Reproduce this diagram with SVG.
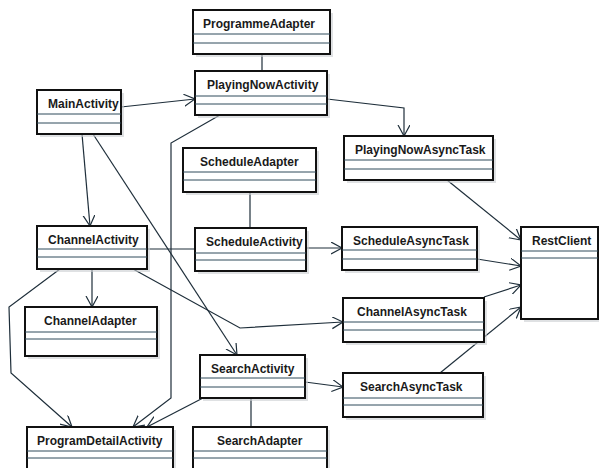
<svg xmlns="http://www.w3.org/2000/svg" width="599" height="468" viewBox="0 0 599 468">
<style>
.bx{fill:#fff;stroke:#111;stroke-width:2}
.sh{fill:#c9cdd0;opacity:0.6}
.dv{stroke:#2e4b5a;stroke-width:1}
.t{font-family:"Liberation Sans",Arial,sans-serif;font-weight:bold;font-size:12px;fill:#1a1a1a}
.c{fill:none;stroke:#1e2e3a;stroke-width:1.2}
.a{marker-end:url(#arr)}
</style>
<defs>
<marker id="arr" markerUnits="userSpaceOnUse" markerWidth="14" markerHeight="14" refX="11" refY="6" orient="auto">
<path d="M0,0 L11,6 L0,12" fill="none" stroke="#1e2e3a" stroke-width="1.2"/>
</marker>
</defs>
<rect width="599" height="468" fill="#fff"/>
<g id="connectors">
<line class="c" x1="262" y1="54" x2="262" y2="71"/>
<line class="c a" x1="121" y1="107" x2="195" y2="99"/>
<polyline class="c a" points="327,99 404,108 404,136"/>
<polyline class="c a" points="220,115 171,143 171,398 133,427"/>
<line class="c a" x1="447" y1="180" x2="521" y2="240"/>
<line class="c" x1="250" y1="192" x2="250" y2="228"/>
<line class="c a" x1="306" y1="248" x2="342" y2="248"/>
<line class="c a" x1="477" y1="259" x2="521" y2="266"/>
<line class="c a" x1="82" y1="134" x2="90" y2="226"/>
<line class="c a" x1="93" y1="134" x2="237" y2="355"/>
<line class="c" x1="147" y1="249" x2="195" y2="249"/>
<line class="c a" x1="92" y1="269" x2="92" y2="307"/>
<polyline class="c a" points="60,269 9,307 11,373 72,427"/>
<polyline class="c a" points="133,269 240,328 343,322"/>
<line class="c a" x1="484" y1="297" x2="521" y2="285"/>
<line class="c a" x1="440" y1="373" x2="521" y2="307"/>
<line class="c a" x1="305" y1="382" x2="343" y2="387"/>
<line class="c" x1="251" y1="398" x2="251" y2="427"/>
<line class="c a" x1="203" y1="398" x2="147" y2="427"/>
</g>
<g id="ProgrammeAdapter">
<rect class="sh" x="196" y="13" width="137" height="44"/>
<rect class="bx" x="193" y="10" width="137" height="44"/>
<line class="dv" x1="193" y1="34" x2="330" y2="34"/><line class="dv" x1="193" y1="43" x2="330" y2="43"/>
<text class="t" x="203" y="28">ProgrammeAdapter</text>
</g>
<g id="PlayingNowActivity">
<rect class="sh" x="198" y="74" width="132" height="44"/>
<rect class="bx" x="195" y="71" width="132" height="44"/>
<line class="dv" x1="195" y1="96" x2="327" y2="96"/><line class="dv" x1="195" y1="104" x2="327" y2="104"/>
<text class="t" x="207" y="89">PlayingNowActivity</text>
</g>
<g id="MainActivity">
<rect class="sh" x="40" y="93" width="84" height="44"/>
<rect class="bx" x="37" y="90" width="84" height="44"/>
<line class="dv" x1="37" y1="114" x2="121" y2="114"/><line class="dv" x1="37" y1="123" x2="121" y2="123"/>
<text class="t" x="48" y="108">MainActivity</text>
</g>
<g id="PlayingNowAsyncTask">
<rect class="sh" x="347" y="139" width="149" height="44"/>
<rect class="bx" x="344" y="136" width="149" height="44"/>
<line class="dv" x1="344" y1="160" x2="493" y2="160"/><line class="dv" x1="344" y1="169" x2="493" y2="169"/>
<text class="t" x="355" y="154">PlayingNowAsyncTask</text>
</g>
<g id="ScheduleAdapter">
<rect class="sh" x="186" y="151" width="133" height="44"/>
<rect class="bx" x="183" y="148" width="133" height="44"/>
<line class="dv" x1="183" y1="172" x2="316" y2="172"/><line class="dv" x1="183" y1="180" x2="316" y2="180"/>
<text class="t" x="200" y="166">ScheduleAdapter</text>
</g>
<g id="ChannelActivity">
<rect class="sh" x="40" y="229" width="110" height="43"/>
<rect class="bx" x="37" y="226" width="110" height="43"/>
<line class="dv" x1="37" y1="249" x2="147" y2="249"/><line class="dv" x1="37" y1="257" x2="147" y2="257"/>
<text class="t" x="48" y="244">ChannelActivity</text>
</g>
<g id="ScheduleActivity">
<rect class="sh" x="198" y="231" width="111" height="43"/>
<rect class="bx" x="195" y="228" width="111" height="43"/>
<line class="dv" x1="195" y1="253" x2="306" y2="253"/><line class="dv" x1="195" y1="260" x2="306" y2="260"/>
<text class="t" x="206" y="246">ScheduleActivity</text>
</g>
<g id="ScheduleAsyncTask">
<rect class="sh" x="345" y="230" width="135" height="43"/>
<rect class="bx" x="342" y="227" width="135" height="43"/>
<line class="dv" x1="342" y1="250" x2="477" y2="250"/><line class="dv" x1="342" y1="259" x2="477" y2="259"/>
<text class="t" x="353" y="245">ScheduleAsyncTask</text>
</g>
<g id="RestClient">
<rect class="sh" x="524" y="230" width="77" height="92"/>
<rect class="bx" x="521" y="227" width="77" height="92"/>
<line class="dv" x1="521" y1="251" x2="598" y2="251"/><line class="dv" x1="521" y1="258" x2="598" y2="258"/>
<text class="t" x="532" y="245">RestClient</text>
</g>
<g id="ChannelAdapter">
<rect class="sh" x="28" y="310" width="132" height="49"/>
<rect class="bx" x="25" y="307" width="132" height="49"/>
<line class="dv" x1="25" y1="332" x2="157" y2="332"/><line class="dv" x1="25" y1="339" x2="157" y2="339"/>
<text class="t" x="44" y="325">ChannelAdapter</text>
</g>
<g id="ChannelAsyncTask">
<rect class="sh" x="346" y="301" width="141" height="44"/>
<rect class="bx" x="343" y="298" width="141" height="44"/>
<line class="dv" x1="343" y1="322" x2="484" y2="322"/><line class="dv" x1="343" y1="330" x2="484" y2="330"/>
<text class="t" x="357" y="316">ChannelAsyncTask</text>
</g>
<g id="SearchActivity">
<rect class="sh" x="203" y="358" width="105" height="43"/>
<rect class="bx" x="200" y="355" width="105" height="43"/>
<line class="dv" x1="200" y1="378" x2="305" y2="378"/><line class="dv" x1="200" y1="387" x2="305" y2="387"/>
<text class="t" x="211" y="373">SearchActivity</text>
</g>
<g id="SearchAsyncTask">
<rect class="sh" x="346" y="376" width="140" height="44"/>
<rect class="bx" x="343" y="373" width="140" height="44"/>
<line class="dv" x1="343" y1="398" x2="483" y2="398"/><line class="dv" x1="343" y1="405" x2="483" y2="405"/>
<text class="t" x="360" y="391">SearchAsyncTask</text>
</g>
<g id="ProgramDetailActivity">
<rect class="sh" x="30" y="430" width="146" height="46"/>
<rect class="bx" x="27" y="427" width="146" height="46"/>
<line class="dv" x1="27" y1="451" x2="173" y2="451"/><line class="dv" x1="27" y1="458" x2="173" y2="458"/>
<text class="t" x="37" y="445">ProgramDetailActivity</text>
</g>
<g id="SearchAdapter">
<rect class="sh" x="196" y="430" width="134" height="46"/>
<rect class="bx" x="193" y="427" width="134" height="46"/>
<line class="dv" x1="193" y1="451" x2="327" y2="451"/><line class="dv" x1="193" y1="458" x2="327" y2="458"/>
<text class="t" x="217" y="445">SearchAdapter</text>
</g>
</svg>
